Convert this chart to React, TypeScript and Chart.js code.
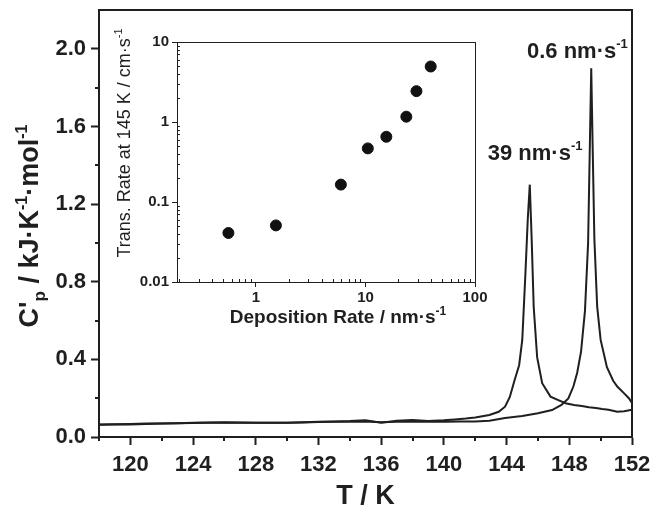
import React, { useEffect, useRef } from 'react';
import { Chart, registerables } from 'chart.js';

Chart.register(...registerables);

// ---- Main DSC-like curves (T in K, C'p in kJ K^-1 mol^-1) ----
const tempFast = [118, 119, 120, 121, 122, 123, 124, 125, 126, 127, 128, 129, 130, 131, 132, 133, 134, 135, 136, 137, 138, 139, 140, 140.7, 141.4, 142, 142.9, 143.5, 143.9, 144.2, 144.5, 144.8, 145.0, 145.2, 145.35, 145.48, 145.6, 145.73, 145.95, 146.27, 146.8, 147.3, 147.76, 148.3, 148.8, 149.25, 149.7, 150.1, 150.5, 151.06, 151.5, 152];
const cpFast = [0.065, 0.066, 0.067, 0.069, 0.070, 0.071, 0.073, 0.075, 0.076, 0.075, 0.074, 0.073, 0.074, 0.076, 0.078, 0.080, 0.082, 0.086, 0.073, 0.084, 0.088, 0.083, 0.086, 0.090, 0.095, 0.101, 0.113, 0.130, 0.156, 0.205, 0.29, 0.37, 0.50, 0.84, 1.12, 1.30, 1.02, 0.67, 0.41, 0.277, 0.208, 0.19, 0.174, 0.165, 0.160, 0.153, 0.149, 0.144, 0.140, 0.130, 0.133, 0.140];

const tempSlow = [118, 119, 120, 121, 122, 123, 124, 125, 126, 127, 128, 129, 130, 131, 132, 133, 134, 135, 136, 137, 138, 139, 140, 141, 142, 142.9, 143.9, 145.0, 146.0, 146.9, 147.5, 147.94, 148.26, 148.5, 148.75, 149.0, 149.2, 149.3, 149.4, 149.5, 149.6, 149.78, 150.0, 150.4, 150.8, 151.06, 151.5, 151.8, 152];
const cpSlow = [0.063, 0.064, 0.065, 0.067, 0.069, 0.071, 0.072, 0.073, 0.074, 0.074, 0.073, 0.073, 0.074, 0.075, 0.077, 0.078, 0.079, 0.080, 0.076, 0.079, 0.080, 0.079, 0.079, 0.080, 0.080, 0.084, 0.098, 0.108, 0.122, 0.139, 0.165, 0.199, 0.26, 0.33, 0.44, 0.65, 1.0, 1.45, 1.90, 1.45, 1.02, 0.67, 0.50, 0.36, 0.29, 0.26, 0.225, 0.20, 0.175];

// ---- Inset: transformation rate vs deposition rate ----
const depositionRate = [0.56, 1.52, 5.96, 10.5, 15.5, 23.6, 29.2, 39.4];
const transRate = [0.041, 0.051, 0.165, 0.468, 0.654, 1.165, 2.43, 4.94];

// ---- Axis settings ----
const mainX = { min: 118, max: 152, step: 4, minorStep: 2 };
const mainY = { min: 0, max: 2.2, step: 0.4, minorStep: 0.2 };
const insetX = { min: 0.19, max: 100 };
const insetY = { min: 0.01, max: 10 };

const INK = '#1f1f1f';
const FAMILY = '"Liberation Sans", Arial, Helvetica, sans-serif';

type Part = { t: string; size: number; dy?: number; weight?: string };

function partsWidth(ctx: CanvasRenderingContext2D, parts: Part[], weight: string) {
  let w = 0;
  for (const p of parts) {
    ctx.font = `${p.weight ?? weight} ${p.size}px ${FAMILY}`;
    w += ctx.measureText(p.t).width;
  }
  return w;
}

function drawRich(ctx: CanvasRenderingContext2D, parts: Part[], x: number, y: number, align: 'left' | 'center', weight: string) {
  const total = partsWidth(ctx, parts, weight);
  let cx = align === 'center' ? x - total / 2 : x;
  ctx.textAlign = 'left';
  ctx.textBaseline = 'alphabetic';
  ctx.fillStyle = INK;
  for (const p of parts) {
    ctx.font = `${p.weight ?? weight} ${p.size}px ${FAMILY}`;
    ctx.fillText(p.t, cx, y + (p.dy ?? 0));
    cx += ctx.measureText(p.t).width;
  }
}

function drawRotated(ctx: CanvasRenderingContext2D, parts: Part[], cx: number, cy: number, capShift: number, weight: string) {
  ctx.save();
  ctx.translate(cx, cy);
  ctx.rotate(-Math.PI / 2);
  drawRich(ctx, parts, 0, capShift, 'center', weight);
  ctx.restore();
}

const isDecade = (v: number) => Math.abs(Math.log10(v) - Math.round(Math.log10(v))) < 1e-6;

export default function App() {
  const mainRef = useRef<HTMLCanvasElement | null>(null);
  const insetRef = useRef<HTMLCanvasElement | null>(null);

  useEffect(() => {
    if (!mainRef.current || !insetRef.current) return;

    const mainPlugin = {
      id: 'mainDecor',
      afterDraw(chart: any) {
        const ctx: CanvasRenderingContext2D = chart.ctx;
        const a = chart.chartArea;
        const xs = chart.scales.x;
        const ys = chart.scales.y;
        ctx.save();
        ctx.strokeStyle = INK;
        ctx.lineWidth = 2;
        ctx.beginPath();
        ctx.moveTo(a.left, a.top);
        ctx.lineTo(a.right, a.top);
        ctx.lineTo(a.right, a.bottom);
        ctx.stroke();
        // minor ticks
        ctx.beginPath();
        for (let t = mainX.min; t <= mainX.max + 1e-9; t += mainX.minorStep) {
          if (Math.abs(t / mainX.step - Math.round(t / mainX.step)) < 1e-6) continue;
          const px = Math.round(xs.getPixelForValue(t));
          ctx.moveTo(px, a.bottom);
          ctx.lineTo(px, a.bottom + 4);
        }
        for (let v = mainY.min; v < mainY.max - 1e-9; v += mainY.minorStep) {
          if (Math.abs(v / mainY.step - Math.round(v / mainY.step)) < 1e-6) continue;
          const py = Math.round(ys.getPixelForValue(v));
          ctx.moveTo(a.left, py);
          ctx.lineTo(a.left - 4, py);
        }
        ctx.stroke();

        // peak annotations
        drawRich(ctx, [
          { t: '0.6 nm·s', size: 22 },
          { t: '-1', size: 13, dy: -10 },
        ], xs.getPixelForValue(145.3), ys.getPixelForValue(1.953), 'left', 'bold');
        drawRich(ctx, [
          { t: '39 nm·s', size: 22 },
          { t: '-1', size: 13, dy: -10 },
        ], xs.getPixelForValue(142.8), ys.getPixelForValue(1.427), 'left', 'bold');

        // axis titles
        drawRich(ctx, [{ t: 'T / K', size: 27 }], (a.left + a.right) / 2, 504, 'center', 'bold');
        drawRotated(ctx, [
          { t: "C'", size: 27 },
          { t: 'p', size: 17, dy: 7 },
          { t: ' / kJ·K', size: 27 },
          { t: '-1', size: 16, dy: -11 },
          { t: '·mol', size: 27 },
          { t: '-1', size: 16, dy: -11 },
        ], 28, 226, 9.5, 'bold');
        ctx.restore();
      },
    };

    const insetPlugin = {
      id: 'insetDecor',
      afterDraw(chart: any) {
        const ctx: CanvasRenderingContext2D = chart.ctx;
        const a = chart.chartArea;
        const xs = chart.scales.x;
        const ys = chart.scales.y;
        ctx.save();
        ctx.strokeStyle = INK;
        ctx.lineWidth = 1;
        ctx.strokeRect(Math.round(a.left) + 0.5, Math.round(a.top) + 0.5, Math.round(a.right - a.left), Math.round(a.bottom - a.top));
        ctx.beginPath();
        for (let e = -2; e <= 2; e++) {
          for (let k = 2; k <= 9; k++) {
            const v = k * Math.pow(10, e);
            if (v > insetX.min && v < insetX.max) {
              const px = Math.round(xs.getPixelForValue(v)) + 0.5;
              ctx.moveTo(px, a.bottom);
              ctx.lineTo(px, a.bottom - 3);
            }
            if (v > insetY.min && v < insetY.max) {
              const py = Math.round(ys.getPixelForValue(v)) + 0.5;
              ctx.moveTo(a.left, py);
              ctx.lineTo(a.left + 3, py);
            }
          }
        }
        ctx.stroke();
        drawRich(ctx, [
          { t: 'Deposition Rate / nm·s', size: 19 },
          { t: '-1', size: 12, dy: -8 },
        ], (a.left + a.right) / 2 + 12, 323, 'center', 'bold');
        drawRotated(ctx, [
          { t: 'Trans. Rate at 145 K / cm·s', size: 18 },
          { t: '-1', size: 11, dy: -8 },
        ], 123, 143, 6.5, 'normal');
        ctx.restore();
      },
    };

    const tickFont = { family: FAMILY, size: 22, weight: 'bold' as const };

    const main = new Chart(mainRef.current, {
      type: 'line',
      data: {
        datasets: [
          {
            label: '39 nm/s',
            data: tempFast.map((t, i) => ({ x: t, y: cpFast[i] })),
            borderColor: INK,
            borderWidth: 2,
            pointRadius: 0,
            tension: 0,
            fill: false,
          },
          {
            label: '0.6 nm/s',
            data: tempSlow.map((t, i) => ({ x: t, y: cpSlow[i] })),
            borderColor: INK,
            borderWidth: 2,
            pointRadius: 0,
            tension: 0,
            fill: false,
          },
        ],
      },
      options: {
        animation: false,
        responsive: false,
        maintainAspectRatio: false,
        layout: { padding: { left: 0, top: 10, right: 20, bottom: 0 } },
        plugins: { legend: { display: false }, tooltip: { enabled: false } },
        scales: {
          x: {
            type: 'linear',
            min: mainX.min,
            max: mainX.max,
            afterFit: (s: any) => { s.height = 77; s.paddingLeft = 0; s.paddingRight = 0; },
            ticks: { stepSize: mainX.step, includeBounds: false, color: INK, font: tickFont, padding: 7, maxRotation: 0, autoSkip: false },
            grid: { drawOnChartArea: false, drawTicks: true, tickLength: 8, tickColor: INK, tickWidth: 2 },
            border: { display: true, color: INK, width: 2 },
          },
          y: {
            type: 'linear',
            min: mainY.min,
            max: mainY.max,
            afterFit: (s: any) => { s.width = 99; s.paddingTop = 0; s.paddingBottom = 0; },
            ticks: { stepSize: mainY.step, includeBounds: false, color: INK, font: tickFont, padding: 5, callback: (v: any) => Number(v).toFixed(1) },
            grid: { drawOnChartArea: false, drawTicks: true, tickLength: 8, tickColor: INK, tickWidth: 2 },
            border: { display: true, color: INK, width: 2 },
          },
        },
      },
      plugins: [mainPlugin],
    } as any);

    const insetTickFont = { family: FAMILY, size: 15, weight: 'bold' as const };
    const inset = new Chart(insetRef.current, {
      type: 'scatter',
      data: {
        datasets: [
          {
            label: 'rate',
            data: depositionRate.map((d, i) => ({ x: d, y: transRate[i] })),
            backgroundColor: '#111',
            borderColor: '#111',
            pointRadius: 5.5,
            pointHoverRadius: 5.5,
          },
        ],
      },
      options: {
        animation: false,
        responsive: false,
        maintainAspectRatio: false,
        layout: { padding: { left: 0, top: 42, right: 177, bottom: 192 } },
        plugins: { legend: { display: false }, tooltip: { enabled: false } },
        scales: {
          x: {
            type: 'logarithmic',
            min: insetX.min,
            max: insetX.max,
            afterBuildTicks: (s: any) => { s.ticks = s.ticks.filter((t: any) => isDecade(t.value)); },
            afterFit: (s: any) => { s.height = 40; s.paddingLeft = 0; s.paddingRight = 0; },
            ticks: { color: INK, font: insetTickFont, padding: 2, maxRotation: 0, autoSkip: false, callback: (v: any) => String(Math.round(Number(v))) },
            grid: { drawOnChartArea: false, drawTicks: true, tickLength: 5, tickColor: INK, tickWidth: 1 },
            border: { display: true, color: INK, width: 1 },
          },
          y: {
            type: 'logarithmic',
            min: insetY.min,
            max: insetY.max,
            afterBuildTicks: (s: any) => { s.ticks = s.ticks.filter((t: any) => isDecade(t.value)); },
            afterFit: (s: any) => { s.width = 177; s.paddingTop = 0; s.paddingBottom = 0; },
            ticks: {
              color: INK, font: insetTickFont, padding: 3, autoSkip: false,
              callback: (v: any) => {
                const n = Number(v);
                if (n >= 1) return String(Math.round(n));
                return n < 0.05 ? n.toFixed(2) : n.toFixed(1);
              },
            },
            grid: { drawOnChartArea: false, drawTicks: true, tickLength: 5, tickColor: INK, tickWidth: 1 },
            border: { display: true, color: INK, width: 1 },
          },
        },
      },
      plugins: [insetPlugin],
    } as any);

    return () => {
      main.destroy();
      inset.destroy();
    };
  }, []);

  return (
    <div style={{ position: 'fixed', left: 0, top: 0, width: 652, height: 514, background: '#fff' }}>
      <canvas ref={mainRef} width={652} height={514} style={{ position: 'absolute', left: 0, top: 0, width: 652, height: 514 }} />
      <canvas ref={insetRef} width={652} height={514} style={{ position: 'absolute', left: 0, top: 0, width: 652, height: 514 }} />
    </div>
  );
}
